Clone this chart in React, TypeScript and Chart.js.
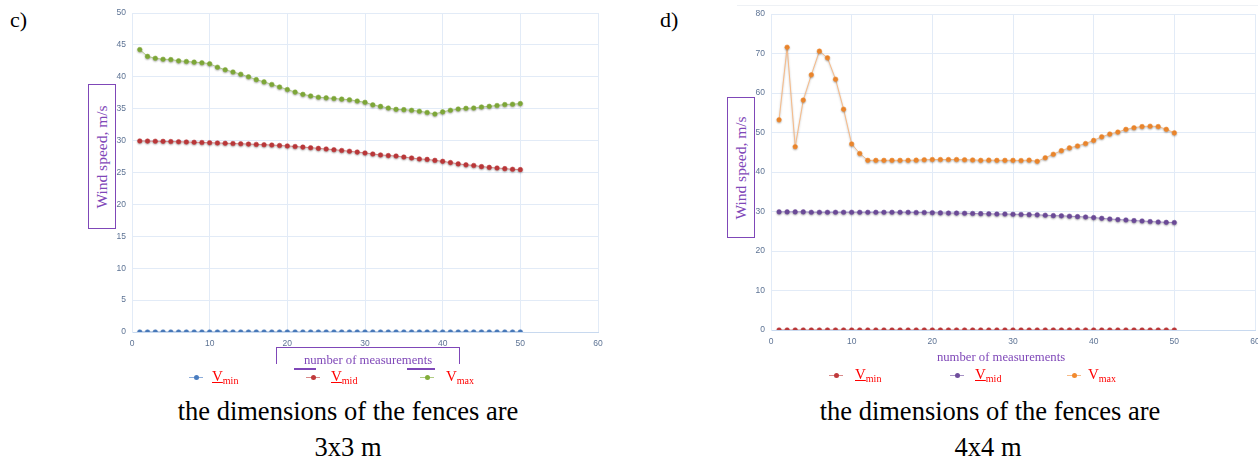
import React, { useEffect, useRef } from "react";
import { Chart, registerables } from "chart.js";

Chart.register(...registerables);

const measurements = [
  1, 2, 3, 4, 5, 6, 7, 8, 9, 10, 11, 12, 13, 14, 15, 16, 17, 18, 19, 20, 21, 22, 23, 24, 25,
  26, 27, 28, 29, 30, 31, 32, 33, 34, 35, 36, 37, 38, 39, 40, 41, 42, 43, 44, 45, 46, 47, 48, 49, 50,
];

// Chart c) fences 3x3 m
const cVmin = [
  0, 0, 0, 0, 0, 0, 0, 0, 0, 0, 0, 0, 0, 0, 0, 0, 0, 0, 0, 0, 0, 0, 0, 0, 0,
  0, 0, 0, 0, 0, 0, 0, 0, 0, 0, 0, 0, 0, 0, 0, 0, 0, 0, 0, 0, 0, 0, 0, 0, 0,
];
const cVmid = [
  29.94, 29.92, 29.9, 29.88, 29.85, 29.82, 29.78, 29.74, 29.7, 29.66,
  29.62, 29.58, 29.54, 29.5, 29.45, 29.4, 29.35, 29.3, 29.23, 29.16,
  29.07, 28.98, 28.88, 28.78, 28.68, 28.57, 28.45, 28.33, 28.2, 28.06,
  27.9, 27.75, 27.65, 27.58, 27.42, 27.27, 27.12, 27.05, 26.9, 26.75,
  26.55, 26.35, 26.2, 26.1, 25.92, 25.8, 25.7, 25.6, 25.5, 25.45,
];
const cVmax = [
  44.26, 43.2, 42.9, 42.75, 42.7, 42.5, 42.4, 42.3, 42.2, 42.05,
  41.5, 41.1, 40.75, 40.4, 40.0, 39.55, 39.2, 38.8, 38.4, 38.0,
  37.6, 37.25, 37.0, 36.8, 36.7, 36.6, 36.5, 36.4, 36.2, 36.0,
  35.6, 35.36, 35.1, 34.9, 34.85, 34.75, 34.6, 34.4, 34.17, 34.5,
  34.75, 34.95, 35.06, 35.1, 35.27, 35.37, 35.5, 35.65, 35.7, 35.8,
];

// Chart d) fences 4x4 m
const dVmin = [
  0, 0, 0, 0, 0, 0, 0, 0, 0, 0, 0, 0, 0, 0, 0, 0, 0, 0, 0, 0, 0, 0, 0, 0, 0,
  0, 0, 0, 0, 0, 0, 0, 0, 0, 0, 0, 0, 0, 0, 0, 0, 0, 0, 0, 0, 0, 0, 0, 0, 0,
];
const dVmid = [
  29.9, 29.9, 29.9, 29.9, 29.8, 29.8, 29.8, 29.8, 29.8, 29.8,
  29.8, 29.8, 29.8, 29.8, 29.8, 29.8, 29.8, 29.75, 29.75, 29.7,
  29.65, 29.6, 29.6, 29.55, 29.5, 29.45, 29.4, 29.35, 29.35, 29.3,
  29.25, 29.2, 29.15, 29.05, 28.95, 28.9, 28.8, 28.7, 28.6, 28.45,
  28.27, 28.1, 27.95, 27.85, 27.7, 27.6, 27.45, 27.35, 27.25, 27.2,
];
const dVmax = [
  53.2, 71.6, 46.4, 58.2, 64.6, 70.6, 68.9, 63.5, 55.9, 47.1,
  44.7, 42.95, 42.95, 42.95, 42.95, 42.95, 42.95, 43.0, 43.1, 43.15,
  43.15, 43.15, 43.15, 43.1, 43.05, 42.95, 43.0, 42.95, 42.95, 42.95,
  42.9, 43.0, 42.7, 43.6, 44.5, 45.4, 46.1, 46.6, 47.2, 48.0,
  48.9, 49.6, 50.1, 50.8, 51.2, 51.5, 51.6, 51.5, 50.8, 49.9,
];

const xTicksMax = 60;
const cYMax = 50;
const cYStep = 5;
const dYMax = 80;
const dYStep = 10;

const PURPLE = "#7f47b8";
const SERIF = "'Liberation Serif', 'Times New Roman', serif";

type DS = { label: string; data: number[]; point: string; line: string };

const shadowPlugin = {
  id: "softShadow",
  beforeDatasetsDraw(chart: any) {
    const ctx = chart.ctx;
    ctx.save();
    ctx.shadowColor = "rgba(0,0,0,0.28)";
    ctx.shadowBlur = 2;
    ctx.shadowOffsetY = 1;
  },
  afterDatasetsDraw(chart: any) {
    chart.ctx.restore();
  },
};

function LineChart(props: {
  left: number;
  top: number;
  width: number;
  height: number;
  series: DS[];
  yMax: number;
  yStep: number;
  padTop: number;
  padRight: number;
  yWidth: number;
  xHeight: number;
}) {
  const ref = useRef<HTMLCanvasElement | null>(null);
  useEffect(() => {
    if (!ref.current) return;
    const tickFont = { family: "'Liberation Sans', Arial, sans-serif", size: 8.5 };
    const chart = new Chart(ref.current, {
      type: "line",
      data: {
        datasets: props.series.map((s) => ({
          label: s.label,
          data: measurements.map((m, i) => ({ x: m, y: s.data[i] })),
          borderColor: s.line,
          backgroundColor: s.point,
          pointBackgroundColor: s.point,
          pointBorderColor: s.point,
          pointBorderWidth: 0.5,
          pointRadius: 2.3,
          borderWidth: 1,
          tension: 0,
          fill: false,
        })),
      },
      options: {
        animation: false,
        responsive: false,
        maintainAspectRatio: false,
        events: [],
        layout: { padding: { top: props.padTop, right: props.padRight, left: 0, bottom: 0 } },
        plugins: { legend: { display: false }, tooltip: { enabled: false }, title: { display: false } },
        scales: {
          x: {
            type: "linear",
            min: 0,
            max: xTicksMax,
            ticks: { stepSize: 10, color: "#5d7394", font: tickFont, padding: 7, maxRotation: 0 },
            grid: { color: "#e2ebf7", lineWidth: 1, drawTicks: false },
            border: { color: "#c8d9ef", width: 1 },
            afterFit: (s: any) => {
              s.height = props.xHeight;
            },
          },
          y: {
            type: "linear",
            min: 0,
            max: props.yMax,
            ticks: { stepSize: props.yStep, color: "#5d7394", font: tickFont, padding: 6 },
            grid: { color: "#e2ebf7", lineWidth: 1, drawTicks: false },
            border: { color: "#e2ebf7", width: 1 },
            afterFit: (s: any) => {
              s.width = props.yWidth;
            },
          },
        },
      },
      plugins: [shadowPlugin],
    } as any);
    return () => chart.destroy();
  }, []);
  return (
    <canvas
      ref={ref}
      width={props.width}
      height={props.height}
      style={{ position: "absolute", left: props.left, top: props.top, width: props.width, height: props.height }}
    />
  );
}

function YTitle(props: { left: number; top: number; width: number; height: number }) {
  return (
    <div
      style={{
        position: "absolute",
        left: props.left,
        top: props.top,
        width: props.width,
        height: props.height,
        border: `1.5px solid ${PURPLE}`,
        boxSizing: "border-box",
        background: "white",
      }}
    >
      <div
        style={{
          position: "absolute",
          left: "50%",
          top: "50%",
          transform: "translate(-50%, -50%) rotate(-90deg)",
          whiteSpace: "nowrap",
          fontFamily: SERIF,
          fontSize: 15.5,
          lineHeight: "16px",
          color: PURPLE,
        }}
      >
        Wind speed, m/s
      </div>
    </div>
  );
}

function LegendItem(props: { x: number; y: number; textX: number; point: string; line: string; sub: string; underline: boolean }) {
  return (
    <>
      <div style={{ position: "absolute", left: props.x, top: props.y - 0.5, width: 14, height: 1, background: props.line }} />
      <div
        style={{
          position: "absolute",
          left: props.x + 7 - 2.5,
          top: props.y - 2.5,
          width: 5,
          height: 5,
          borderRadius: "50%",
          background: props.point,
        }}
      />
      <div
        style={{
          position: "absolute",
          left: props.textX,
          top: props.y - 8,
          fontFamily: SERIF,
          fontSize: 15,
          lineHeight: "15px",
          color: "#ff0000",
          whiteSpace: "nowrap",
          textDecoration: props.underline ? "underline" : "none",
        }}
      >
        V<span style={{ fontSize: 10, verticalAlign: "-3px" }}>{props.sub}</span>
      </div>
    </>
  );
}

function Caption(props: { cx: number; top: number; text: string }) {
  return (
    <div
      style={{
        position: "absolute",
        left: props.cx - 300,
        width: 600,
        top: props.top,
        textAlign: "center",
        fontFamily: SERIF,
        fontSize: 26.5,
        lineHeight: "26.5px",
        color: "#000",
        whiteSpace: "nowrap",
      }}
    >
      {props.text}
    </div>
  );
}

export default function App() {
  const cSeries: DS[] = [
    { label: "Vmin", data: cVmin, point: "#4a7dc0", line: "#8eaedb" },
    { label: "Vmid", data: cVmid, point: "#c0393b", line: "#d98a8a" },
    { label: "Vmax", data: cVmax, point: "#82ad3a", line: "#b0cd84" },
  ];
  const dSeries: DS[] = [
    { label: "Vmin", data: dVmin, point: "#c0393b", line: "#d98a8a" },
    { label: "Vmid", data: dVmid, point: "#6f4d9c", line: "#a792c6" },
    { label: "Vmax", data: dVmax, point: "#f28a2e", line: "#f7bb88" },
  ];
  return (
    <div
      style={{
        position: "fixed",
        left: 0,
        top: 0,
        width: 1258,
        height: 461,
        overflow: "hidden",
        background: "white",
      }}
    >
      <div style={{ position: "absolute", left: 10, top: 9, fontFamily: SERIF, fontSize: 22, lineHeight: "22px" }}>c)</div>
      <div style={{ position: "absolute", left: 660, top: 9, fontFamily: SERIF, fontSize: 22, lineHeight: "22px" }}>d)</div>

      <div style={{ position: "absolute", left: 737, top: 5, width: 530, height: 1, background: "#eef1f5" }} />

      <LineChart
        left={100}
        top={0}
        width={525}
        height={356}
        series={cSeries}
        yMax={cYMax}
        yStep={cYStep}
        padTop={13}
        padRight={27}
        yWidth={32}
        xHeight={24}
      />
      <LineChart
        left={730}
        top={0}
        width={540}
        height={356}
        series={dSeries}
        yMax={dYMax}
        yStep={dYStep}
        padTop={14}
        padRight={15}
        yWidth={41}
        xHeight={26}
      />

      <YTitle left={88} top={84} width={28} height={145} />
      <YTitle left={727} top={97} width={28} height={141} />

      {/* x titles */}
      <div
        style={{
          position: "absolute",
          left: 276,
          top: 347,
          width: 184,
          height: 17,
          borderTop: `1.5px solid ${PURPLE}`,
          borderLeft: `1.5px solid ${PURPLE}`,
          borderRight: `1.5px solid ${PURPLE}`,
          boxSizing: "border-box",
        }}
      />
      <div style={{ position: "absolute", left: 294, top: 368, width: 22, height: 1.5, background: PURPLE }} />
      <div style={{ position: "absolute", left: 407, top: 368, width: 28, height: 1.5, background: PURPLE }} />
      <div
        style={{
          position: "absolute",
          left: 268,
          width: 200,
          top: 353,
          textAlign: "center",
          fontFamily: SERIF,
          fontSize: 12.7,
          lineHeight: "14px",
          color: PURPLE,
          whiteSpace: "nowrap",
        }}
      >
        number of measurements
      </div>
      <div
        style={{
          position: "absolute",
          left: 901,
          width: 200,
          top: 350,
          textAlign: "center",
          fontFamily: SERIF,
          fontSize: 12.7,
          lineHeight: "14px",
          color: PURPLE,
          whiteSpace: "nowrap",
        }}
      >
        number of measurements
      </div>

      {/* legends */}
      <LegendItem x={189} y={377} textX={212} point="#4a7dc0" line="#8eaedb" sub="min" underline={true} />
      <LegendItem x={306} y={377} textX={331} point="#c0393b" line="#d98a8a" sub="mid" underline={true} />
      <LegendItem x={420} y={377} textX={446} point="#82ad3a" line="#b0cd84" sub="max" underline={false} />

      <LegendItem x={829} y={375} textX={855} point="#c0393b" line="#d98a8a" sub="min" underline={true} />
      <LegendItem x={950} y={375} textX={975} point="#6f4d9c" line="#a792c6" sub="mid" underline={true} />
      <LegendItem x={1067} y={375} textX={1088} point="#f28a2e" line="#f7bb88" sub="max" underline={false} />

      {/* captions */}
      <Caption cx={348} top={398} text="the dimensions of the fences are" />
      <Caption cx={348} top={434} text="3x3 m" />
      <Caption cx={990} top={398} text="the dimensions of the fences are" />
      <Caption cx={988} top={434} text="4x4 m" />
    </div>
  );
}
